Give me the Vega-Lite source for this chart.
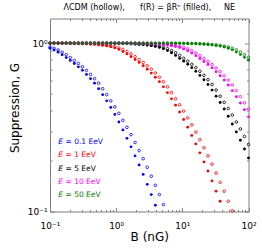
{
  "$schema": "https://vega.github.io/schema/vega-lite/v6.json",
  "width": 198.5,
  "height": 193,
  "autosize": {"type": "none"},
  "padding": {"left": 50, "top": 18.5, "right": 12, "bottom": 37},
  "config": {
    "font": "DejaVu Sans",
    "view": {"stroke": null},
    "axis": {"grid": false, "domainColor": "#808080", "tickColor": "#666666", "tickWidth": 0.8, "domainWidth": 1, "labelColor": "#000", "titleColor": "#000", "labelFontSize": 9, "titleFontSize": 12, "titleFontWeight": "normal", "labelFlush": false, "labelOverlap": false, "labelBound": false}
  },
  "title": {"text": "ΛCDM (hollow),\u00a0\u00a0\u00a0\u00a0\u00a0 f(R) = βRⁿ (filled),\u00a0\u00a0\u00a0\u00a0 NE", "fontSize": 8, "fontWeight": "normal", "color": "#000", "offset": 6, "anchor": "middle"},
  "datasets": {
    "pts": [
      {"B":0.1,"a1":0.931,"b1":0.947,"a2":0.999,"b2":1,"a3":1,"b3":1,"a4":1,"b4":1,"a5":1,"b5":1},
      {"B":0.1151,"a1":0.910,"b1":0.931,"a2":0.999,"b2":0.999,"a3":1,"b3":1,"a4":1,"b4":1,"a5":1,"b5":1},
      {"B":0.1326,"a1":0.883,"b1":0.910,"a2":0.998,"b2":0.999,"a3":1,"b3":1,"a4":1,"b4":1,"a5":1,"b5":1},
      {"B":0.1526,"a1":0.853,"b1":0.883,"a2":0.998,"b2":0.998,"a3":1,"b3":1,"a4":1,"b4":1,"a5":1,"b5":1},
      {"B":0.1758,"a1":0.820,"b1":0.853,"a2":0.997,"b2":0.998,"a3":1,"b3":1,"a4":1,"b4":1,"a5":1,"b5":1},
      {"B":0.2024,"a1":0.789,"b1":0.820,"a2":0.996,"b2":0.997,"a3":1,"b3":1,"a4":1,"b4":1,"a5":1,"b5":1},
      {"B":0.2330,"a1":0.757,"b1":0.789,"a2":0.995,"b2":0.996,"a3":1,"b3":1,"a4":1,"b4":1,"a5":1,"b5":1},
      {"B":0.2683,"a1":0.723,"b1":0.757,"a2":0.994,"b2":0.995,"a3":1,"b3":1,"a4":1,"b4":1,"a5":1,"b5":1},
      {"B":0.3089,"a1":0.689,"b1":0.723,"a2":0.993,"b2":0.994,"a3":1,"b3":1,"a4":1,"b4":1,"a5":1,"b5":1},
      {"B":0.3556,"a1":0.652,"b1":0.689,"a2":0.990,"b2":0.993,"a3":1,"b3":1,"a4":1,"b4":1,"a5":1,"b5":1},
      {"B":0.4095,"a1":0.615,"b1":0.652,"a2":0.987,"b2":0.990,"a3":1,"b3":1,"a4":1,"b4":1,"a5":1,"b5":1},
      {"B":0.4715,"a1":0.578,"b1":0.615,"a2":0.983,"b2":0.987,"a3":0.999,"b3":0.999,"a4":1,"b4":1,"a5":1,"b5":1},
      {"B":0.5429,"a1":0.536,"b1":0.578,"a2":0.978,"b2":0.983,"a3":0.999,"b3":0.999,"a4":1,"b4":1,"a5":1,"b5":1},
      {"B":0.6251,"a1":0.494,"b1":0.536,"a2":0.971,"b2":0.978,"a3":0.998,"b3":0.999,"a4":1,"b4":1,"a5":1,"b5":1},
      {"B":0.7197,"a1":0.454,"b1":0.494,"a2":0.962,"b2":0.971,"a3":0.998,"b3":0.999,"a4":1,"b4":1,"a5":1,"b5":1},
      {"B":0.8286,"a1":0.415,"b1":0.454,"a2":0.951,"b2":0.962,"a3":0.998,"b3":0.998,"a4":1,"b4":1,"a5":1,"b5":1},
      {"B":0.9541,"a1":0.377,"b1":0.418,"a2":0.936,"b2":0.951,"a3":0.997,"b3":0.998,"a4":0.999,"b4":0.999,"a5":1,"b5":1},
      {"B":1.0985,"a1":0.340,"b1":0.383,"a2":0.917,"b2":0.936,"a3":0.996,"b3":0.997,"a4":0.999,"b4":0.999,"a5":1,"b5":1},
      {"B":1.2649,"a1":0.305,"b1":0.348,"a2":0.892,"b2":0.917,"a3":0.995,"b3":0.996,"a4":0.998,"b4":0.999,"a5":1,"b5":1},
      {"B":1.4563,"a1":0.272,"b1":0.316,"a2":0.863,"b2":0.892,"a3":0.993,"b3":0.995,"a4":0.998,"b4":0.999,"a5":1,"b5":1},
      {"B":1.6768,"a1":0.242,"b1":0.286,"a2":0.831,"b2":0.863,"a3":0.991,"b3":0.993,"a4":0.998,"b4":0.998,"a5":1,"b5":1},
      {"B":1.9307,"a1":0.214,"b1":0.257,"a2":0.799,"b2":0.831,"a3":0.988,"b3":0.991,"a4":0.997,"b4":0.998,"a5":1,"b5":1},
      {"B":2.2230,"a1":0.189,"b1":0.230,"a2":0.768,"b2":0.799,"a3":0.985,"b3":0.988,"a4":0.996,"b4":0.997,"a5":1,"b5":1},
      {"B":2.5595,"a1":0.166,"b1":0.206,"a2":0.734,"b2":0.768,"a3":0.980,"b3":0.985,"a4":0.995,"b4":0.996,"a5":1,"b5":1},
      {"B":2.9471,"a1":0.145,"b1":0.183,"a2":0.700,"b2":0.734,"a3":0.974,"b3":0.980,"a4":0.993,"b4":0.995,"a5":1,"b5":1},
      {"B":3.3932,"a1":0.126,"b1":0.162,"a2":0.664,"b2":0.700,"a3":0.966,"b3":0.974,"a4":0.991,"b4":0.993,"a5":1,"b5":1},
      {"B":3.9069,"a1":0.109,"b1":0.143,"a2":0.627,"b2":0.664,"a3":0.956,"b3":0.966,"a4":0.988,"b4":0.991,"a5":1,"b5":1},
      {"B":4.4984,"b1":0.126,"a2":0.590,"b2":0.627,"a3":0.943,"b3":0.956,"a4":0.984,"b4":0.988,"a5":1,"b5":1},
      {"B":5.1795,"b1":0.110,"a2":0.550,"b2":0.590,"a3":0.926,"b3":0.943,"a4":0.979,"b4":0.984,"a5":0.999,"b5":0.999},
      {"B":5.9636,"a2":0.508,"b2":0.550,"a3":0.903,"b3":0.926,"a4":0.973,"b4":0.979,"a5":0.999,"b5":0.999},
      {"B":6.8665,"a2":0.467,"b2":0.508,"a3":0.876,"b3":0.903,"a4":0.965,"b4":0.973,"a5":0.998,"b5":0.999},
      {"B":7.906,"a2":0.428,"b2":0.467,"a3":0.845,"b3":0.876,"a4":0.955,"b4":0.965,"a5":0.998,"b5":0.998},
      {"B":9.103,"a2":0.390,"b2":0.430,"a3":0.812,"b3":0.845,"a4":0.942,"b4":0.955,"a5":0.997,"b5":0.998},
      {"B":10.481,"a2":0.352,"b2":0.395,"a3":0.781,"b3":0.812,"a4":0.924,"b4":0.942,"a5":0.996,"b5":0.997},
      {"B":12.068,"a2":0.317,"b2":0.360,"a3":0.749,"b3":0.781,"a4":0.901,"b4":0.924,"a5":0.995,"b5":0.996},
      {"B":13.895,"a2":0.283,"b2":0.327,"a3":0.715,"b3":0.749,"a4":0.873,"b4":0.901,"a5":0.994,"b5":0.995},
      {"B":15.999,"a2":0.252,"b2":0.296,"a3":0.680,"b3":0.715,"a4":0.842,"b4":0.873,"a5":0.992,"b5":0.994},
      {"B":18.421,"a2":0.223,"b2":0.267,"a3":0.643,"b3":0.680,"a4":0.810,"b4":0.842,"a5":0.989,"b5":0.992},
      {"B":21.21,"a2":0.197,"b2":0.239,"a3":0.606,"b3":0.643,"a4":0.778,"b4":0.810,"a5":0.986,"b5":0.989},
      {"B":24.421,"a2":0.174,"b2":0.214,"a3":0.568,"b3":0.606,"a4":0.746,"b4":0.778,"a5":0.981,"b5":0.986},
      {"B":28.118,"a2":0.152,"b2":0.191,"a3":0.526,"b3":0.568,"a4":0.712,"b4":0.746,"a5":0.976,"b5":0.981},
      {"B":32.375,"a2":0.132,"b2":0.169,"a3":0.484,"b3":0.526,"a4":0.677,"b4":0.712,"a5":0.969,"b5":0.976},
      {"B":37.276,"a2":0.115,"b2":0.149,"a3":0.444,"b3":0.484,"a4":0.640,"b4":0.677,"a5":0.960,"b5":0.969},
      {"B":42.919,"b2":0.132,"a3":0.406,"b3":0.445,"a4":0.603,"b4":0.640,"a5":0.948,"b5":0.960},
      {"B":49.417,"b2":0.115,"a3":0.368,"b3":0.409,"a4":0.564,"b4":0.603,"a5":0.932,"b5":0.948},
      {"B":56.899,"b2":0.101,"a3":0.331,"b3":0.374,"a4":0.522,"b4":0.564,"a5":0.912,"b5":0.932},
      {"B":65.513,"a3":0.297,"b3":0.340,"a4":0.481,"b4":0.522,"a5":0.885,"b5":0.912},
      {"B":75.431,"a3":0.265,"b3":0.309,"a4":0.441,"b4":0.481,"a5":0.855,"b5":0.885},
      {"B":86.851,"a3":0.235,"b3":0.279,"a4":0.402,"b4":0.442,"a5":0.823,"b5":0.855},
      {"B":100,"a3":0.208,"b3":0.250,"a4":0.365,"b4":0.406,"a5":0.792,"b5":0.823}
    ],
    "lab": [
      {"B":0.1335,"G":0.2586,"s":"a1","t":"= 0.1 EeV"},
      {"B":0.1335,"G":0.2158,"s":"a2","t":"= 1 EeV"},
      {"B":0.1335,"G":0.1800,"s":"a3","t":"= 5 EeV"},
      {"B":0.1335,"G":0.1502,"s":"a4","t":"= 10 EeV"},
      {"B":0.1335,"G":0.1253,"s":"a5","t":"= 50 EeV"}
    ]
  },
  "layer": [
    {
      "data": {"name": "pts"},
      "transform": [{"fold": ["a1","a2","a3","a4","a5"], "as": ["s","G"]}, {"filter": "isValid(datum.G)"}],
      "mark": {"type": "point", "shape": "circle", "filled": true, "size": 8, "opacity": 1, "clip": false},
      "encoding": {
        "x": {"field": "B", "type": "quantitative", "scale": {"type": "log", "domain": [0.1, 100], "nice": false},
          "axis": {"orient": "bottom", "values": [0.1,0.2,0.3,0.4,0.5,0.6,0.7,0.8,0.9,1,2,3,4,5,6,7,8,9,10,20,30,40,50,60,70,80,90,100],
            "labelExpr": "datum.value == 0.1 ? '10⁻¹' : datum.value == 1 ? '10⁰' : datum.value == 10 ? '10¹' : datum.value == 100 ? '10²' : ''",
            "tickSize": {"condition": {"test": "datum.value == 0.1 || datum.value == 1 || datum.value == 10 || datum.value == 100", "value": -4}, "value": -2},
            "labelPadding": 14, "title": "B (nG)", "titlePadding": -1}},
        "y": {"field": "G", "type": "quantitative", "scale": {"type": "log", "domain": [0.1, 1.4], "nice": false},
          "axis": {"orient": "left", "values": [0.1,0.2,0.3,0.4,0.5,0.6,0.7,0.8,0.9,1],
            "labelExpr": "datum.value == 0.1 ? '10⁻¹' : datum.value == 1 ? '10⁰' : ''",
            "tickSize": {"condition": {"test": "datum.value == 0.1 || datum.value == 1", "value": -4}, "value": -2},
            "labelPadding": 7, "title": "Suppression, G", "titlePadding": 6, "titleY": 89}},
        "color": {"field": "s", "type": "nominal", "scale": {"domain": ["a1","a2","a3","a4","a5","b1","b2","b3","b4","b5"], "range": ["#0000ff","#ff0000","#000000","#ff00ff","#008000","#0000ff","#ff0000","#000000","#ff00ff","#008000"]}, "legend": null},
        "order": {"field": "s"}
      }
    },
    {
      "data": {"name": "pts"},
      "transform": [{"fold": ["b1","b2","b3","b4","b5"], "as": ["s","G"]}, {"filter": "isValid(datum.G)"}],
      "mark": {"type": "point", "shape": "circle", "filled": false, "size": 7, "strokeWidth": 0.8, "opacity": 1, "clip": false},
      "encoding": {
        "x": {"field": "B", "type": "quantitative", "scale": {"type": "log", "domain": [0.1, 100], "nice": false},
          "axis": {"orient": "top", "values": [0.1,0.2,0.3,0.4,0.5,0.6,0.7,0.8,0.9,1,2,3,4,5,6,7,8,9,10,20,30,40,50,60,70,80,90,100], "labels": false, "title": null,
            "tickSize": {"condition": {"test": "datum.value == 0.1 || datum.value == 1 || datum.value == 10 || datum.value == 100", "value": -4}, "value": -2}}},
        "y": {"field": "G", "type": "quantitative", "scale": {"type": "log", "domain": [0.1, 1.4], "nice": false},
          "axis": {"orient": "right", "values": [0.1,0.2,0.3,0.4,0.5,0.6,0.7,0.8,0.9,1], "labels": false, "title": null,
            "tickSize": {"condition": {"test": "datum.value == 0.1 || datum.value == 1", "value": -4}, "value": -2}}},
        "color": {"field": "s", "type": "nominal", "scale": {"domain": ["a1","a2","a3","a4","a5","b1","b2","b3","b4","b5"], "range": ["#0000ff","#ff0000","#000000","#ff00ff","#008000","#0000ff","#ff0000","#000000","#ff00ff","#008000"]}, "legend": null},
        "order": {"field": "s"}
      }
    },
    {
      "data": {"name": "lab"},
      "mark": {"type": "text", "align": "left", "baseline": "middle", "fontSize": 7.5, "fontStyle": "italic", "text": "E"},
      "encoding": {
        "x": {"field": "B", "type": "quantitative", "axis": null},
        "y": {"field": "G", "type": "quantitative", "axis": null},
        "color": {"field": "s", "type": "nominal", "legend": null}
      }
    },
    {
      "data": {"name": "lab"},
      "mark": {"type": "text", "align": "left", "baseline": "middle", "fontSize": 7.5, "dx": 7.2},
      "encoding": {
        "x": {"field": "B", "type": "quantitative", "axis": null},
        "y": {"field": "G", "type": "quantitative", "axis": null},
        "text": {"field": "t"},
        "color": {"field": "s", "type": "nominal", "legend": null}
      }
    }
  ],
  "resolve": {"axis": {"x": "independent", "y": "independent"}}
}
